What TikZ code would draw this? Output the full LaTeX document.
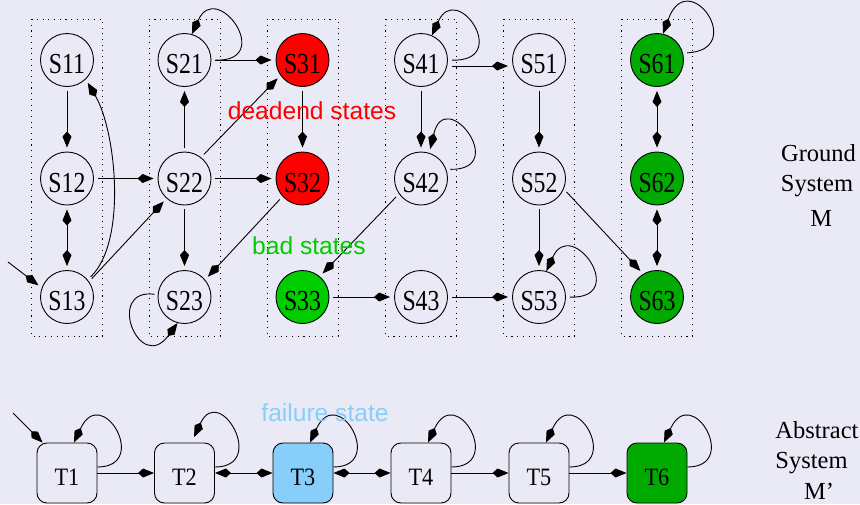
\documentclass[tikz,border=0pt]{standalone}
\usepackage{fontspec}
\setmainfont{Liberation Serif}
\newfontfamily\sansf{Liberation Sans}
\newfontfamily\snodef[FakeStretch=0.82]{Liberation Serif}
\newfontfamily\tnodef[FakeStretch=0.89]{Liberation Serif}
\usetikzlibrary{arrows.meta}
\definecolor{bg}{RGB}{234,234,246}
\definecolor{deadred}{RGB}{255,0,0}
\definecolor{badgreen}{RGB}{0,204,0}
\definecolor{okgreen}{RGB}{0,170,0}
\definecolor{failblue}{RGB}{135,206,250}
\begin{document}
\begin{tikzpicture}[x=1pt,y=-1pt,line width=0.9pt,
  snode/.style={circle,draw,minimum size=53pt,inner sep=0pt,font=\snodef\fontsize{29}{29}\selectfont,text height=27.5pt,text depth=0pt},
  tnode/.style={rectangle,rounded corners=10pt,draw,minimum width=60pt,minimum height=60pt,inner sep=0pt,font=\tnodef\fontsize{25}{25}\selectfont,text height=24pt,text depth=0pt},
  arr/.style={-{Kite[length=16pt,width=9pt,inset=5pt]}},
  biarr/.style={{Kite[length=16pt,width=9pt,inset=5pt]}-{Kite[length=16pt,width=9pt,inset=5pt]}},
  gap/.style={shorten >=4pt,shorten <=4pt},
  colbox/.style={dash pattern=on 1.1pt off 4.6pt,line width=0.9pt},
  note/.style={font=\sansf\fontsize{24.6}{24.6}\selectfont,inner sep=0pt},
  side/.style={font=\fontsize{24.5}{24.5}\selectfont,inner sep=0pt,anchor=base},
]
\fill[bg] (0,0) rectangle (860,504);
\useasboundingbox (0,0) rectangle (860,504);

% ground system states
\node[snode] (S11) at (67,60) {S11};
\node[snode] (S12) at (67,178.5) {S12};
\node[snode] (S13) at (67,297) {S13};
\node[snode] (S21) at (184.5,60) {S21};
\node[snode] (S22) at (184.5,178.5) {S22};
\node[snode] (S23) at (184.5,297) {S23};
\node[snode,fill=deadred] (S31) at (302.5,60) {S31};
\node[snode,fill=deadred] (S32) at (302.5,178.5) {S32};
\node[snode,fill=badgreen] (S33) at (302.5,297) {S33};
\node[snode] (S41) at (421,60) {S41};
\node[snode] (S42) at (421,178.5) {S42};
\node[snode] (S43) at (421,297) {S43};
\node[snode] (S51) at (539,60) {S51};
\node[snode] (S52) at (539,178.5) {S52};
\node[snode] (S53) at (539,297) {S53};
\node[snode,fill=okgreen] (S61) at (657,60) {S61};
\node[snode,fill=okgreen] (S62) at (657,178.5) {S62};
\node[snode,fill=okgreen] (S63) at (657,297) {S63};

\foreach \n in {S11,S21,S31,S41,S51,S61}
  \draw[colbox] (\n.center) ++(-35.5,-41) rectangle ++(71,317);

% edges
\coordinate (i1) at (8,262);
\draw[arr,shorten >=4pt] (i1) -- (S13.160);
\draw[arr,gap] (S11) -- (S12);
\draw[biarr,gap] (S12) -- (S13);
\draw[arr,gap] (S13.40) .. controls +(40,-38) and +(30,51) .. (S11.-46);
\draw[arr,gap] (S12) -- (S22);
\draw[arr,gap] (S13.35) -- (S22.228);
\draw[arr,gap] (S22) -- (S21);
\draw[arr,gap] (S22.52) -- (S31.215);
\draw[arr,gap] (S22) -- (S32);
\draw[arr,gap] (S22) -- (S23);
\draw[arr,gap] (S21) -- (S31);
\draw[arr,shorten <=4pt] (S21.east) .. controls +(64,2) and +(25,-55) .. (S21.74);
\draw[arr,shorten <=3pt] (S23.175) .. controls +(-53,-7) and +(-38,52) .. (S23.-105);
\draw[arr,gap] (S31) -- (S32);
\draw[arr,gap] (S32.222) -- (S23.40);
\draw[arr,gap] (S33) -- (S43);
\draw[arr,shorten <=4pt] (S41.east) .. controls +(64,2) and +(25,-55) .. (S41.66);
\draw[arr,gap] ([yshift=-6pt]S41.east) -- ([yshift=-6pt]S51.west);
\draw[arr,gap] (S41) -- (S42);
\draw[arr,gap] (S42.20) .. controls +(64,1) and +(16,-68) .. (S42.72);
\draw[arr,gap] (S42.215) -- (S33.50);
\draw[arr,gap] (S43) -- (S53);
\draw[arr,gap] (S51) -- (S52);
\draw[arr,gap] (S52) -- (S53);
\draw[arr,shorten <=4pt] (S53.east) .. controls +(64,2) and +(25,-55) .. (S53.74);
\draw[arr,gap] (S52.-23) -- (S63.121);
\draw[arr,shorten <=4pt] (S61.15) .. controls +(65,-3) and +(25,-69) .. (S61.77);
\draw[biarr,gap] (S61) -- (S62);
\draw[biarr,gap] (S62) -- (S63);

% abstract system
\node[tnode] (T1) at (67,473) {T1};
\node[tnode] (T2) at (184.5,473) {T2};
\node[tnode,fill=failblue] (T3) at (303,473) {T3};
\node[tnode] (T4) at (421,473) {T4};
\node[tnode] (T5) at (539,473) {T5};
\node[tnode,fill=okgreen] (T6) at (657,473) {T6};

\coordinate (i2) at (13,413);
\draw[arr] (i2) -- ([xshift=6pt]T1.north west);
\foreach \t in {T1,T3,T4,T5,T6}
  \draw[arr] ([yshift=6pt]\t.east) .. controls +(53,0) and +(28,-60) .. ([xshift=7pt]\t.north);
\draw[arr,shorten >=6pt] ([yshift=6pt]T2.east) .. controls +(53,0) and +(28,-60) .. ([xshift=7pt]T2.north);
\draw[arr] (T1) -- (T2);
\draw[biarr] (T2) -- (T3);
\draw[biarr] (T3) -- (T4);
\draw[arr] (T4) -- (T5);
\draw[arr] (T5) -- (T6);

% labels
\node[note,text=deadred] (dead) at (312,111) {deadend states};
\node[note,text=badgreen] (bad) at (309,245.5) {bad states};
\node[note,text=failblue] (fail) at (325,412.5) {failure state};

\node[side] (g1) at (818.5,161.7) {Ground};
\node[side] (g2) at (817,191.7) {System};
\node[side] (g3) at (821.3,226) {M};
\node[side,anchor=base west] (a1) at (775,438.3) {Abstract};
\node[side,anchor=base west] (a2) at (775,468.3) {System};
\node[side] (a3) at (819,499) {M'};
\end{tikzpicture}
\end{document}
